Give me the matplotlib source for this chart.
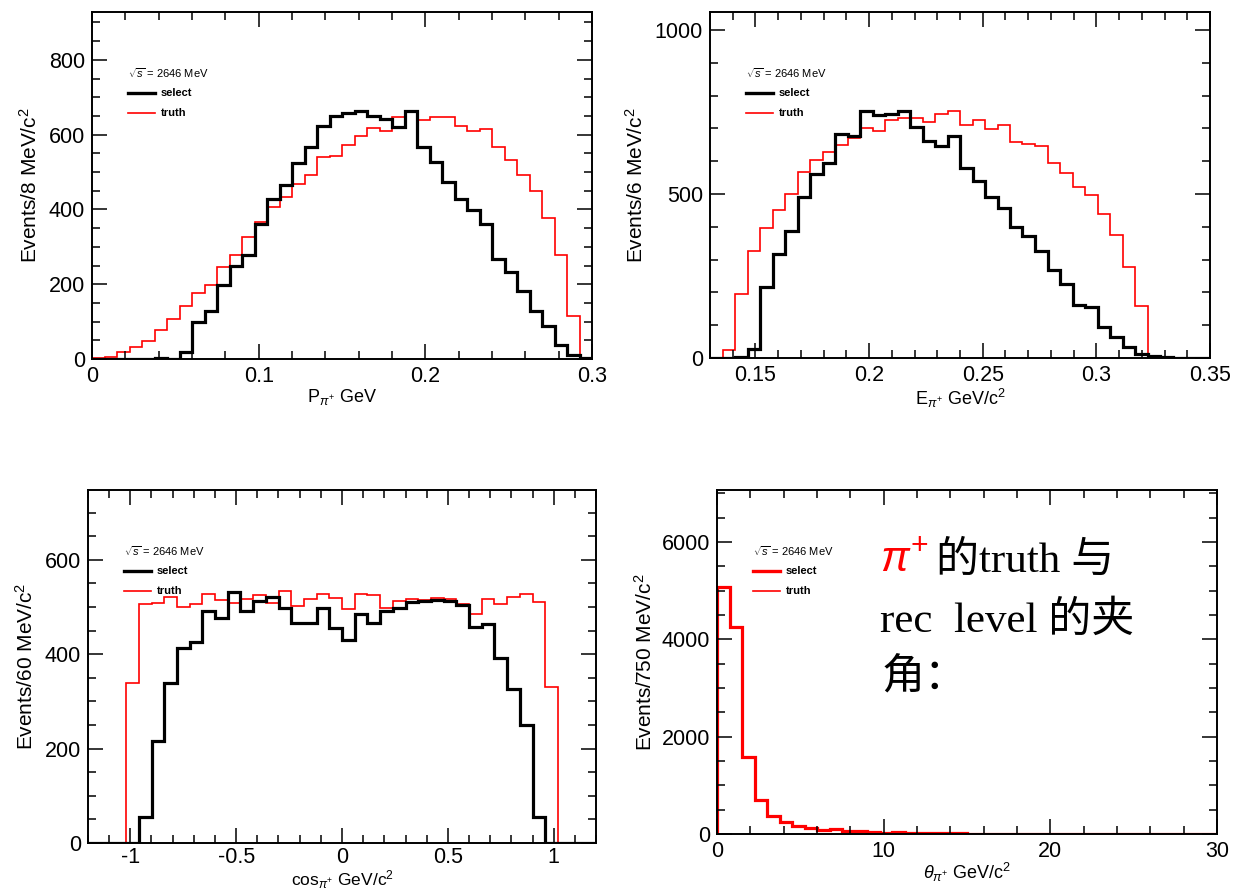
import numpy as np
import matplotlib
matplotlib.use("Agg")
import matplotlib.pyplot as plt
from matplotlib.ticker import MultipleLocator

plt.rcParams['font.family'] = ['Liberation Sans', 'DejaVu Sans']
plt.rcParams['mathtext.fontset'] = 'custom'
plt.rcParams['mathtext.rm'] = 'Liberation Sans'
plt.rcParams['mathtext.it'] = 'Liberation Sans:italic'

# ---- data (40 bins each panel) ----
p_range = (0.0, 0.3)
p_select = [0, 0, 0, 0, 1, 3, 1, 20, 98, 128,
            197, 248, 279, 362, 429, 466, 524, 566, 622, 649,
            658, 663, 651, 642, 621, 663, 567, 526, 473, 428,
            398, 361, 268, 232, 181, 128, 89, 38, 12, 3]
p_truth = [2, 5, 18, 32, 47, 77, 107, 141, 177, 199,
           245, 279, 325, 366, 406, 432, 468, 493, 540, 542,
           571, 597, 618, 609, 646, 663, 640, 646, 648, 624,
           609, 616, 566, 531, 493, 450, 377, 279, 116, 3]

e_range = (0.13, 0.35)
e_select = [0, 0, 2, 28, 216, 317, 386, 490, 562, 595,
            684, 676, 754, 742, 744, 752, 703, 661, 647, 676,
            579, 541, 490, 457, 399, 373, 325, 267, 226, 161,
            155, 95, 64, 33, 12, 5, 3, 1, 0, 0]
e_truth = [0, 25, 196, 325, 396, 451, 500, 567, 605, 627,
           648, 671, 701, 691, 726, 732, 732, 720, 745, 754,
           711, 727, 698, 710, 658, 652, 645, 595, 564, 521,
           496, 439, 376, 276, 158, 0, 0, 0, 0, 0]

cos_range = (-1.2, 1.2)
cos_select = [0, 0, 0, 0, 55, 217, 339, 414, 425, 492,
              476, 532, 492, 513, 521, 499, 467, 467, 497, 455,
              430, 485, 467, 492, 499, 511, 513, 514, 513, 504,
              458, 465, 393, 326, 251, 55, 0, 0, 0, 0]
cos_truth = [0, 0, 0, 340, 507, 509, 521, 500, 507, 528,
             514, 509, 518, 525, 509, 534, 502, 516, 528, 520,
             496, 528, 525, 499, 513, 518, 514, 520, 516, 507,
             485, 518, 507, 521, 528, 511, 331, 0, 0, 0]

theta_range = (0, 30)
theta_angle = [5068, 4247, 1589, 699, 370, 253, 171, 130, 82, 103,
               68, 55, 41, 27, 34, 25, 20, 18, 15, 12,
               0, 10, 8, 8, 6, 5, 0, 0, 0, 0,
               0, 0, 0, 0, 0, 0, 0, 0, 0, 0]

W, H = 1237, 889
fig = plt.figure(figsize=(W / 100, H / 100), dpi=100)


def make_ax(l, r, t, b):
    return fig.add_axes([l / W, 1 - b / H, (r - l) / W, (b - t) / H])


def style(ax, xr, ylim, xmaj, xmin, ymaj, ymin):
    ax.set_xlim(*xr)
    ax.set_ylim(*ylim)
    ax.xaxis.set_major_locator(MultipleLocator(xmaj))
    ax.xaxis.set_minor_locator(MultipleLocator(xmin))
    ax.yaxis.set_major_locator(MultipleLocator(ymaj))
    ax.yaxis.set_minor_locator(MultipleLocator(ymin))
    ax.tick_params(which='both', direction='in', top=True, right=True, width=1.1)
    ax.tick_params(which='major', length=11, labelsize=15.5, pad=5)
    ax.tick_params(which='minor', length=5.5)
    for s in ax.spines.values():
        s.set_linewidth(1.4)
    ax.xaxis.set_major_formatter(matplotlib.ticker.FuncFormatter(lambda v, p: f"{v:g}"))


def legend(ax, wpx, hpx, sel_color):
    ax.text(36 / wpx, 1 - 61 / hpx, r"$\sqrt{s}$ = 2646 MeV", transform=ax.transAxes,
            fontsize=8, va='center', ha='left')
    for dy, lab, c, lw in [(81, 'select', sel_color, 2.4), (101, 'truth', 'red', 1.2)]:
        y = 1 - dy / hpx
        ax.plot([36 / wpx, 63 / wpx], [y, y], color=c, lw=lw, transform=ax.transAxes)
        ax.text(69 / wpx, y, lab, transform=ax.transAxes, fontsize=8,
                fontweight='bold', va='center', ha='left')


def draw(ax, rng, sel, tru, sel_color='black'):
    edges = np.linspace(rng[0], rng[1], len(tru) + 1)
    ax.stairs(tru, edges, color='red', lw=1.2)
    ax.stairs(sel, edges, color=sel_color, lw=2.3)


# panel 1
ax1 = make_ax(92, 592, 12, 359)
draw(ax1, p_range, p_select, p_truth)
style(ax1, p_range, (0, 928), 0.1, 0.02, 200, 50)
ax1.set_ylabel("Events/8 MeV/c$^2$", fontsize=15, labelpad=6)
ax1.set_xlabel(r"P$_{\pi^{+}}$ GeV", fontsize=13, labelpad=0)
legend(ax1, 500, 347, 'black')

# panel 2
ax2 = make_ax(710, 1210, 12, 358)
draw(ax2, e_range, e_select, e_truth)
style(ax2, e_range, (0, 1055), 0.05, 0.01, 500, 100)
ax2.set_ylabel("Events/6 MeV/c$^2$", fontsize=15, labelpad=6)
ax2.set_xlabel(r"E$_{\pi^{+}}$ GeV/c$^2$", fontsize=13, labelpad=1)
legend(ax2, 500, 346, 'black')

# panel 3
ax3 = make_ax(88, 596, 490, 843)
draw(ax3, cos_range, cos_select, cos_truth)
style(ax3, cos_range, (0, 748), 0.5, 0.1, 200, 50)
ax3.tick_params(axis='x', which='major', pad=3)
ax3.set_ylabel("Events/60 MeV/c$^2$", fontsize=15, labelpad=6)
ax3.set_xlabel(r"cos$_{\pi^{+}}$ GeV/c$^2$", fontsize=12.5, labelpad=0)
legend(ax3, 508, 353, 'black')

# panel 4
ax4 = make_ax(717, 1217, 490, 834)
draw(ax4, theta_range, theta_angle, theta_angle, sel_color='red')
style(ax4, theta_range, (0, 7070), 10, 2, 2000, 500)
ax4.set_ylabel("Events/750 MeV/c$^2$", fontsize=15, labelpad=4)
ax4.set_xlabel(r"$\theta_{\pi^{+}}$ GeV/c$^2$", fontsize=13, labelpad=-1)
legend(ax4, 500, 344, 'red')

# annotation
cjk = ['Liberation Serif', 'Noto Sans CJK SC']
fig.text(880 / W, 1 - 572 / H, r"$\pi^{+}$", color='red', fontsize=31,
         va='baseline', family='DejaVu Serif', style='italic')
fig.text(936 / W, 1 - 572 / H, "的truth 与", fontsize=31, va='baseline', family=cjk)
fig.text(880 / W, 1 - 632 / H, "rec  level 的夹", fontsize=31, va='baseline', family=cjk)
fig.text(882 / W, 1 - 690 / H, "角：", fontsize=31, va='baseline', family=cjk)

fig.savefig("out.png", dpi=100)
